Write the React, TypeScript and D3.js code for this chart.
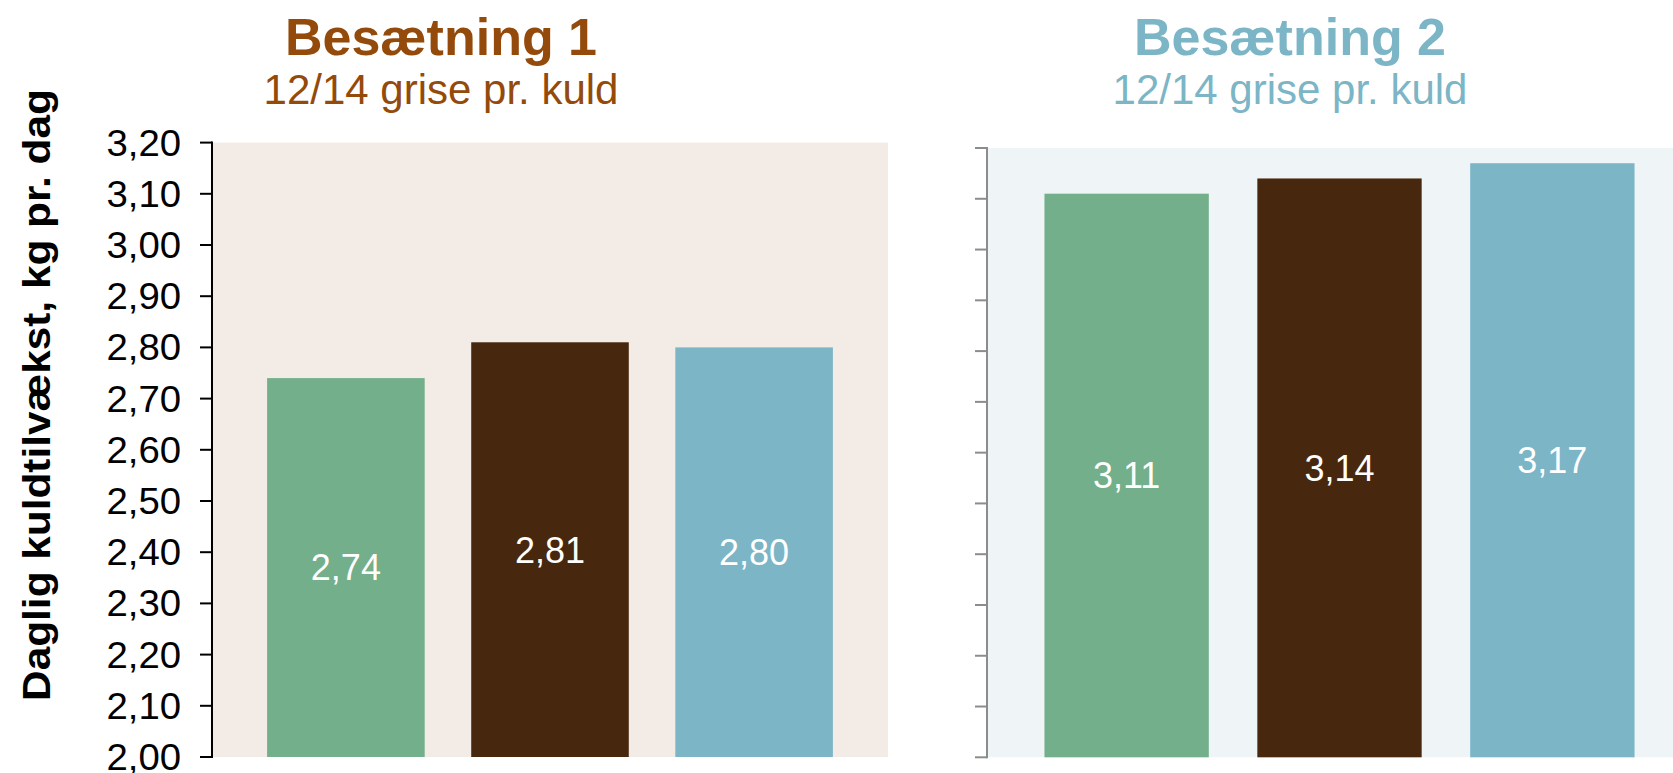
import React from "react";
import * as d3 from "d3";

const categories = ["Gruppe A", "Gruppe B", "Gruppe C"];
const herd1Values = [2.74, 2.81, 2.8];
const herd2Values = [3.11, 3.14, 3.17];
const yTicks = [2.0, 2.1, 2.2, 2.3, 2.4, 2.5, 2.6, 2.7, 2.8, 2.9, 3.0, 3.1, 3.2];
const panelTitles = ["Besætning 1", "Besætning 2"];
const panelSubtitles = ["12/14 grise pr. kuld", "12/14 grise pr. kuld"];
const yAxisTitle = "Daglig kuldtilvækst, kg pr. dag";
const barColors = ["#72AF8A", "#47280E", "#7BB5C6"];

const W = 1673;
const H = 773;
const FONT = "'Liberation Sans', Arial, Helvetica, sans-serif";
const fmt = (v: number) => d3.format(".2f")(v).replace(".", ",");

type PanelProps = {
  values: number[];
  x0: number;
  x1: number;
  yTop: number;
  yBottom: number;
  bg: string;
  axisColor: string;
  showLabels: boolean;
  title: string;
  subtitle: string;
  titleX: number;
  titleColor: string;
};

function Panel(p: PanelProps) {
  const x = d3
    .scaleBand<string>()
    .domain(categories)
    .range([p.x0, p.x1])
    .paddingInner(0.228)
    .paddingOuter(0.27);
  const y = d3.scaleLinear().domain([2.0, 3.2]).range([p.yBottom, p.yTop]);
  const labelFs = 36;
  const tickFs = 36.5;
  return (
    <g>
      <text
        x={p.titleX}
        y={55}
        textAnchor="middle"
        fontFamily={FONT}
        fontWeight="bold"
        fontSize={52}
        fill={p.titleColor}
      >
        {p.title}
      </text>
      <text
        x={p.titleX}
        y={104}
        textAnchor="middle"
        fontFamily={FONT}
        fontSize={42}
        fill={p.titleColor}
      >
        {p.subtitle}
      </text>
      <rect
        x={p.x0}
        y={p.yTop}
        width={Math.min(p.x1, W) - p.x0}
        height={p.yBottom - p.yTop}
        fill={p.bg}
      />
      {p.values.map((v, i) => {
        const bx = x(categories[i])!;
        const top = y(v);
        const cy = (top + y(2.0)) / 2;
        return (
          <g key={i}>
            <rect
              x={bx}
              y={top}
              width={x.bandwidth()}
              height={y(2.0) - top}
              fill={barColors[i]}
            />
            <text
              x={bx + x.bandwidth() / 2}
              y={cy + labelFs * 0.358}
              textAnchor="middle"
              fontFamily={FONT}
              fontSize={labelFs}
              fill="#FFFFFF"
            >
              {fmt(v)}
            </text>
          </g>
        );
      })}
      <line
        x1={p.x0}
        x2={p.x0}
        y1={y(3.2) - 1}
        y2={y(2.0) + 1}
        stroke={p.axisColor}
        strokeWidth={2}
      />
      {yTicks.map((t) => (
        <g key={t}>
          <line
            x1={p.x0 - 12}
            x2={p.x0}
            y1={y(t)}
            y2={y(t)}
            stroke={p.axisColor}
            strokeWidth={2}
          />
          {p.showLabels && (
            <text
              transform={`translate(${p.x0 - 31},${y(t) + tickFs * 0.358}) scale(1.05,1)`}
              textAnchor="end"
              fontFamily={FONT}
              fontSize={tickFs}
              fill="#000000"
            >
              {fmt(t)}
            </text>
          )}
        </g>
      ))}
    </g>
  );
}

export default function App() {
  return (
    <svg
      width={W}
      height={H}
      viewBox={`0 0 ${W} ${H}`}
      style={{ position: "absolute", left: 0, top: 0, background: "#FFFFFF" }}
    >
      <rect x={0} y={0} width={W} height={H} fill="#FFFFFF" />
      <text
        transform="translate(50,395) rotate(-90) scale(1.1,1)"
        textAnchor="middle"
        fontFamily={FONT}
        fontWeight="bold"
        fontSize={38.5}
        fill="#000000"
      >
        {yAxisTitle}
      </text>
      <Panel
        values={herd1Values}
        x0={212}
        x1={888}
        yTop={142.6}
        yBottom={757}
        bg="#F3EBE6"
        axisColor="#000000"
        showLabels={true}
        title={panelTitles[0]}
        subtitle={panelSubtitles[0]}
        titleX={441}
        titleColor="#934A0B"
      />
      <Panel
        values={herd2Values}
        x0={987}
        x1={1692}
        yTop={148}
        yBottom={757.3}
        bg="#EFF4F7"
        axisColor="#8C8C8C"
        showLabels={false}
        title={panelTitles[1]}
        subtitle={panelSubtitles[1]}
        titleX={1290}
        titleColor="#7BB5C6"
      />
    </svg>
  );
}
